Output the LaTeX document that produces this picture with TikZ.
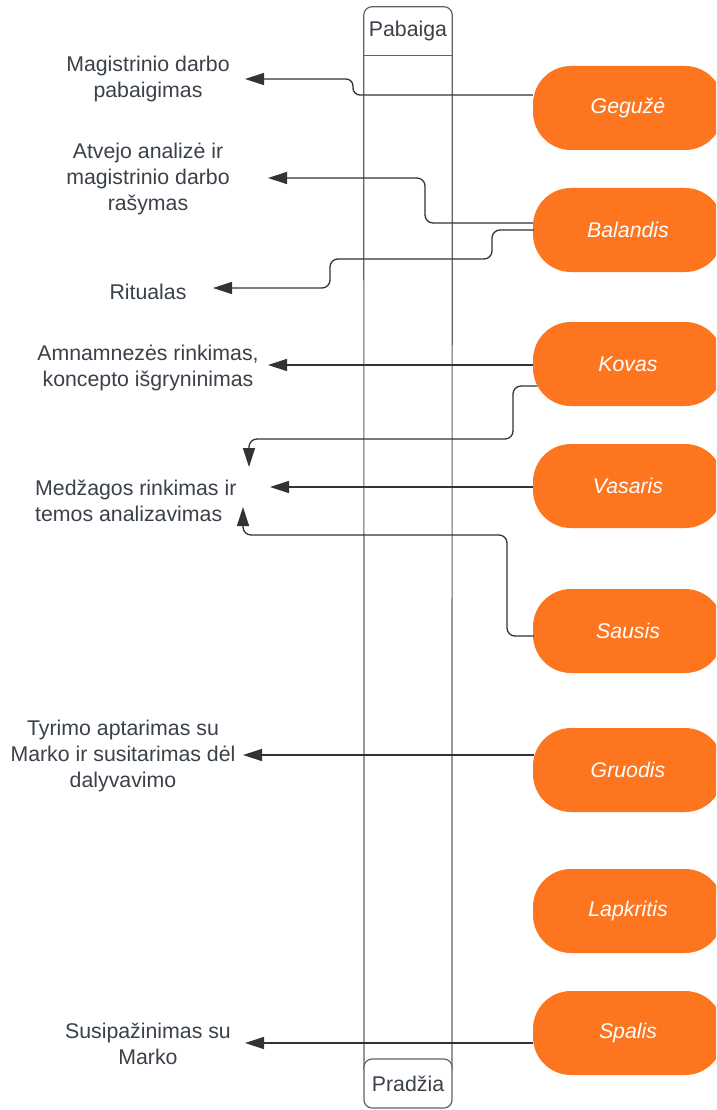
\documentclass[tikz,border=0pt]{standalone}
\usepackage{fontspec}
\setmainfont{Liberation Sans}
\usetikzlibrary{arrows.meta}
\definecolor{pillorange}{RGB}{254,117,32}
\definecolor{txtgray}{RGB}{58,65,74}
\definecolor{lanegray}{RGB}{96,98,104}
\definecolor{linegray}{RGB}{51,51,51}
\begin{document}
\begin{tikzpicture}[x=1pt,y=-1pt,
  pill/.style={draw=none, fill=pillorange, rounded corners=38pt, minimum width=190pt, minimum height=84pt, text=white, font=\fontsize{21.3}{26}\selectfont\itshape, inner sep=0pt},
  lbl/.style={text=txtgray, font=\fontsize{21.3}{26}\selectfont, align=center, inner sep=0pt},
  conn/.style={draw=linegray, line width=1.3pt, rounded corners=8pt, -{Triangle[length=19pt,width=12pt]}},
  lane/.style={draw=lanegray, line width=1.2pt},
  lanebox/.style={minimum width=88pt, text=txtgray, font=\fontsize{21.3}{26}\selectfont, inner sep=0pt},
]
\useasboundingbox (0,0) rectangle (716,1110);
\clip (0,0) rectangle (716,1110);
\fill[white] (0,0) rectangle (716,1110);

% swimlane
\node[lanebox, minimum height=48pt] (pab) at (408,31) {Pabaiga};
\draw[lane, rounded corners=8pt] (pab.south west) -- (pab.north west) -- (pab.north east) -- (pab.south east);
\draw[lane] (pab.south west) -- (pab.south east);
\draw[lane] (pab.south west) -- (364,1070);
\draw[lane] (pab.south east) -- (452,1070);
\node[lanebox, minimum height=49pt, draw=lanegray, line width=1.2pt, fill=white, rounded corners=8pt] (pra) at (408,1083.5) {Pradžia};

% months
\node[pill] (geg) at (628,108) {Gegužė};
\node[pill] (bal) at (628,230) {Balandis};
\node[pill] (kov) at (628,364) {Kovas};
\node[pill] (vas) at (628,486) {Vasaris};
\node[pill] (sau) at (628,631) {Sausis};
\node[pill] (gru) at (628,770) {Gruodis};
\node[pill] (lap) at (628,911) {Lapkritis};
\node[pill] (spa) at (628,1033) {Spalis};

% activities
\node[lbl] (t1) at (148,79) {Magistrinio darbo\\pabaigimas};
\node[lbl] (t2) at (148,179) {Atvejo analizė ir\\magistrinio darbo\\rašymas};
\node[lbl] (t3) at (148,292) {Ritualas};
\node[lbl] (t4) at (148,368) {Amnamnezės rinkimas,\\koncepto išgryninimas};
\node[lbl, align=left, anchor=west] (t5) at (35,501) {Medžagos rinkimas ir\\temos analizavimas};
\node[lbl] (t6) at (123,756) {Tyrimo aptarimas su\\Marko ir susitarimas dėl\\dalyvavimo};
\node[lbl] (t7) at (148,1044) {Susipažinimas su\\Marko};

% arrow ends
\coordinate (e1) at (245,79);
\coordinate (e2) at (268,178);
\coordinate (e3) at (213,288);
\coordinate (e4) at (268,365);
\coordinate (e5) at (249,467);
\coordinate (e6) at (270,487);
\coordinate (e7) at (243,507);
\coordinate (e8) at (243,755);
\coordinate (e9) at (245,1043);

% connectors
\draw[conn, rounded corners=7pt] ([yshift=13pt]geg.west) -- (353,95) -- (353,79) -- (e1);
\draw[conn] ([yshift=7pt]bal.west) -- (425,223) -- (425,178) -- (e2);
\draw[conn] ([xshift=1pt]bal.west) -- (492,230) -- (492,259) -- (330,259) -- (330,288) -- (e3);
\draw[conn] ([yshift=-1pt]kov.west) -- (e4);
\draw[conn] ([xshift=4.5pt,yshift=-22pt]kov.west) -- (513,386) -- (513,439) -- (249,439) -- (e5);
\draw[conn] ([yshift=-1pt]vas.west) -- (e6);
\draw[conn] ([xshift=1pt,yshift=-5pt]sau.west) -- (507,636) -- (507,535) -- (243,535) -- (e7);
\draw[conn] ([xshift=1.6pt,yshift=15pt]gru.west) -- (e8);
\draw[conn] ([xshift=0.5pt,yshift=-10pt]spa.west) -- (e9);
\end{tikzpicture}
\end{document}
